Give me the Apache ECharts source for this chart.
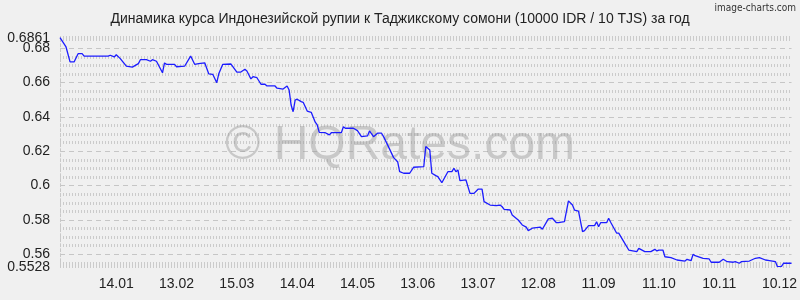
<!DOCTYPE html>
<html><head><meta charset="utf-8">
<script src="https://cdn.jsdelivr.net/npm/echarts@6/dist/echarts.min.js"></script>
<style>html,body{margin:0;padding:0;background:#f0f0f0}#c{width:800px;height:300px}</style>
</head><body><div id="c"></div>
<script>
const titleText = 'Динамика курса Индонезийской рупии к Таджикскому сомони (10000 IDR / 10 TJS) за год';
const brandText = 'image-charts.com';
const watermarkText = '© HQRates.com';

const dates = [
'2024-12-17','2024-12-20','2024-12-22','2024-12-24','2024-12-26','2024-12-28','2024-12-29',
'2025-01-10','2025-01-11','2025-01-13','2025-01-14','2025-01-16','2025-01-19','2025-01-22','2025-01-25','2025-01-26','2025-01-29','2025-01-31',
'2025-02-01','2025-02-03','2025-02-06','2025-02-07','2025-02-08','2025-02-12','2025-02-13','2025-02-17','2025-02-20','2025-02-22','2025-02-24','2025-02-27',
'2025-03-01','2025-03-03','2025-03-05','2025-03-06','2025-03-08','2025-03-12','2025-03-15','2025-03-17','2025-03-19','2025-03-20','2025-03-22','2025-03-23','2025-03-25','2025-03-27','2025-03-29','2025-03-30',
'2025-04-03','2025-04-04','2025-04-07','2025-04-09','2025-04-10','2025-04-11','2025-04-12','2025-04-13','2025-04-14','2025-04-16','2025-04-17','2025-04-19','2025-04-21','2025-04-23','2025-04-24','2025-04-25','2025-04-28','2025-04-30',
'2025-05-01','2025-05-06','2025-05-07','2025-05-08','2025-05-12','2025-05-14','2025-05-16','2025-05-19','2025-05-20','2025-05-22','2025-05-24','2025-05-26','2025-05-27','2025-05-29',
'2025-06-01','2025-06-03','2025-06-04','2025-06-06','2025-06-09','2025-06-11','2025-06-16','2025-06-17','2025-06-19','2025-06-20','2025-06-22','2025-06-23','2025-06-25','2025-06-28','2025-06-30',
'2025-07-01','2025-07-02','2025-07-03','2025-07-04','2025-07-07','2025-07-09','2025-07-11','2025-07-13','2025-07-15','2025-07-16','2025-07-19','2025-07-22','2025-07-24','2025-07-25','2025-07-26','2025-07-29','2025-07-30',
'2025-08-02','2025-08-04','2025-08-06','2025-08-07','2025-08-09','2025-08-13','2025-08-14','2025-08-17','2025-08-19','2025-08-21','2025-08-22','2025-08-25','2025-08-27','2025-08-29','2025-08-30',
'2025-09-01','2025-09-03','2025-09-04','2025-09-06','2025-09-09','2025-09-10','2025-09-11','2025-09-12','2025-09-15','2025-09-16','2025-09-17','2025-09-20','2025-09-21','2025-09-23','2025-09-26','2025-09-30',
'2025-10-01','2025-10-04','2025-10-07','2025-10-09','2025-10-10','2025-10-11','2025-10-13','2025-10-14','2025-10-17','2025-10-20','2025-10-24','2025-10-25','2025-10-27','2025-10-28','2025-10-29',
'2025-11-02','2025-11-05','2025-11-06','2025-11-10','2025-11-12','2025-11-14','2025-11-17','2025-11-18','2025-11-20','2025-11-21','2025-11-25','2025-11-28','2025-11-30',
'2025-12-03','2025-12-05','2025-12-08','2025-12-09','2025-12-11','2025-12-12','2025-12-16'
];
const values = [
0.6861,0.6807,0.6720,0.6720,0.6768,0.6768,0.6754,
0.6754,0.6759,0.6749,0.6762,0.6739,0.6695,0.6690,0.6710,0.6733,0.6733,0.6724,
0.6733,0.6724,0.6657,0.6714,0.6706,0.6706,0.6692,0.6695,0.6754,0.6706,0.6710,0.6715,
0.6651,0.6648,0.6599,0.6651,0.6706,0.6708,0.6661,0.6661,0.6677,0.6667,0.6621,0.6634,0.6628,0.6590,0.6590,0.6580,
0.6580,0.6567,0.6562,0.6580,0.6557,0.6469,0.6430,0.6498,0.6503,0.6489,0.6485,0.6434,0.6427,0.6369,0.6353,0.6310,0.6308,0.6295,
0.6308,0.6308,0.6343,0.6334,0.6334,0.6320,0.6285,0.6289,0.6318,0.6285,0.6305,0.6305,0.6285,0.6237,
0.6163,0.6139,0.6081,0.6072,0.6072,0.6107,0.6110,0.6227,0.6207,0.6072,0.6058,0.6052,0.6017,0.6081,0.6081,
0.6101,0.6081,0.6091,0.6029,0.6033,0.5955,0.5955,0.5979,0.5979,0.5907,0.5887,0.5883,0.5887,0.5877,0.5862,0.5858,0.5829,
0.5800,0.5771,0.5758,0.5738,0.5752,0.5758,0.5746,0.5806,0.5810,0.5784,0.5784,0.5790,0.5911,0.5887,0.5858,
0.5852,0.5732,0.5738,0.5767,0.5767,0.5790,0.5761,0.5784,0.5784,0.5810,0.5787,0.5723,0.5723,0.5684,0.5625,0.5616,
0.5635,0.5616,0.5616,0.5629,0.5620,0.5625,0.5625,0.5586,0.5581,0.5567,0.5561,0.5571,0.5563,0.5600,0.5592,
0.5577,0.5573,0.5554,0.5554,0.5571,0.5557,0.5554,0.5557,0.5548,0.5557,0.5561,0.5577,0.5581,
0.5567,0.5563,0.5557,0.5528,0.5530,0.5548,0.5548
];

const xStart = '2024-12-17';
const xEnd = '2025-12-16';
const xTickDates = ['2025-01-14','2025-02-13','2025-03-15','2025-04-14','2025-05-14','2025-06-13','2025-07-13','2025-08-12','2025-09-11','2025-10-11','2025-11-10','2025-12-10'];
const xTickLabels = ['14.01','13.02','15.03','14.04','14.05','13.06','13.07','12.08','11.09','11.10','10.11','10.12'];

const yMin = 0.5528, yMax = 0.6861;
const yTickValues = [0.56,0.58,0.60,0.62,0.64,0.66,0.68];
const yTickLabels = ['0.56','0.58','0.6','0.62','0.64','0.66','0.68'];
const yEdgeValues = [0.5528,0.6861];
const yEdgeLabels = ['0.5528','0.6861'];
const yMinorValues = [0.5528,0.555,0.565,0.57,0.575,0.585,0.59,0.595,0.605,0.61,0.615,0.625,0.63,0.635,0.645,0.65,0.655,0.665,0.67,0.675,0.685,0.6861];

const DAY = 86400000;
const ts = s => { const p = s.split('-'); return Date.UTC(+p[0], +p[1]-1, +p[2]) / DAY; };
const xTickDays = xTickDates.map(ts);
const seriesData = dates.map((d, i) => [ts(d), values[i]]);
const pick = (vals, labels) => v => { const i = vals.findIndex(t => Math.abs(t - v) < 1e-6); return i >= 0 ? labels[i] : ''; };

const chart = echarts.init(document.getElementById('c'), null, {renderer: 'canvas'});
const font = '"Liberation Sans", Arial, sans-serif';
const labelStyle = {margin: 10, fontFamily: font, fontSize: 14, color: '#222', hideOverlap: false};
chart.setOption({
  backgroundColor: '#f0f0f0',
  animation: false,
  title: {
    text: titleText, left: 'center', top: 7,
    textStyle: {fontFamily: font, fontSize: 14, fontWeight: 'normal', color: '#222'}
  },
  graphic: [
    {type: 'text', right: 4, top: 3, z: 10,
     style: {text: brandText, font: '10px "DejaVu Sans Condensed", sans-serif', fill: '#333'}},
    {type: 'text', left: 'center', top: 122, z: 1, silent: true,
     style: {text: watermarkText, font: '48px "Liberation Sans", Arial, sans-serif', fill: 'rgba(150,150,150,0.45)'}}
  ],
  grid: {left: 60, right: 0, top: 37.7, bottom: 33.3, containLabel: false},
  xAxis: {
    type: 'value', min: ts(xStart), max: ts(xEnd), scale: true,
    axisLine: {show: false}, axisTick: {show: false, customValues: xTickDays},
    splitLine: {show: false},
    axisLabel: Object.assign({customValues: xTickDays, formatter: pick(xTickDays, xTickLabels),
      alignMinLabel: 'center', alignMaxLabel: 'center'}, labelStyle)
  },
  yAxis: [{
    type: 'value', min: yMin, max: yMax,
    axisLine: {show: true, lineStyle: {color: '#c8c8c8', type: [3, 2]}},
    axisTick: {show: false, customValues: yTickValues},
    axisLabel: Object.assign({customValues: yTickValues, formatter: pick(yTickValues, yTickLabels)}, labelStyle),
    splitLine: {show: true, lineStyle: {color: '#c6c6c6', width: 1, type: [5, 4]}}
  }, {
    type: 'value', min: yMin, max: yMax, position: 'left',
    axisLine: {show: false}, axisLabel: {show: false},
    axisTick: {show: false, customValues: yMinorValues},
    splitLine: {show: true, lineStyle: {color: '#cbcbcb', width: 3, type: [1, 2]}}
  }, {
    type: 'value', min: yMin, max: yMax, position: 'left',
    axisLine: {show: false}, splitLine: {show: false},
    axisTick: {show: false, customValues: yEdgeValues},
    axisLabel: Object.assign({customValues: yEdgeValues, formatter: pick(yEdgeValues, yEdgeLabels)}, labelStyle)
  }],
  series: [{
    type: 'line', data: seriesData, showSymbol: false, symbol: 'none', z: 5,
    lineStyle: {color: '#1c1cff', width: 1.3}
  }]
});
</script></body></html>
